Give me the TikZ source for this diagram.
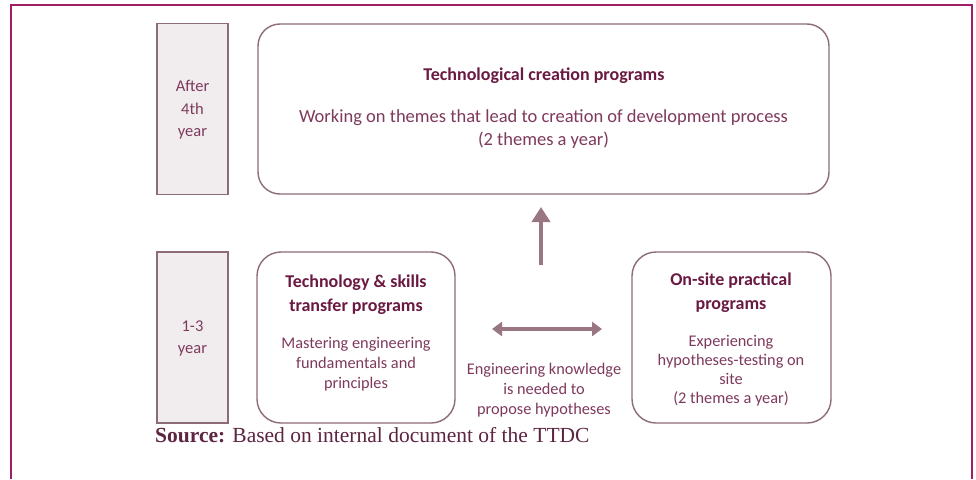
\documentclass[tikz,border=0pt]{standalone}
\usepackage{fontspec}
\setmainfont{Carlito}
\newfontfamily\srcfont{Liberation Serif}
\usetikzlibrary{arrows.meta}
\definecolor{frame}{HTML}{9E1F68}
\definecolor{edge}{HTML}{8C6C77}
\definecolor{grayfill}{HTML}{F1EDEF}
\definecolor{titlec}{HTML}{6A1A42}
\definecolor{bodyc}{HTML}{7E3A5C}
\definecolor{arrowc}{HTML}{9A7582}
\definecolor{srcc}{HTML}{5C2541}
\tikzset{
  yearbox/.style={draw=edge, line width=1.4pt, fill=grayfill, minimum width=71pt, minimum height=171pt, inner sep=0pt},
  progbox/.style={draw=edge, line width=1.4pt, inner sep=0pt},
  txt/.style={text=bodyc, font=\fontsize{16.3}{20}\selectfont, align=center, inner sep=0pt},
  bigtxt/.style={text=bodyc, font=\fontsize{18.5}{23}\selectfont, align=center, inner sep=0pt},
  yeartxt/.style={text=bodyc, font=\fontsize{16.5}{22.5}\selectfont, align=center, inner sep=0pt},
  ttl/.style={text=titlec, font=\fontsize{18}{24}\selectfont\bfseries, align=center, inner sep=0pt},
  thickarrow/.style={draw=arrowc, line width=4.5pt},
}
\begin{document}
\begin{tikzpicture}[x=1pt,y=-1pt]
\useasboundingbox (0,0) rectangle (976,479);
\fill[white] (0,0) rectangle (976,479);
% outer frame
\draw[frame, line width=2.2pt] (11,479) -- (11,5) -- (972,5) -- (972,479);
% year boxes
\node[yearbox] (y1) at (192.5,109) {};
\node[yeartxt] (y1t) at (192.5,110) {After\\4th\\year};
\node[yearbox] (y2) at (192.5,337.5) {};
\node[yeartxt] (y2t) at (192.5,338.5) {1-3\\year};
% top program box
\draw[progbox, rounded corners=22pt] (258,24) rectangle (829,194);
\node[ttl] (t1) at (544,76) {Technological creation programs};
\node[bigtxt] (t2) at (543.5,129.5) {Working on themes that lead to creation of development process\\(2 themes a year)};
% lower left box
\draw[progbox, rounded corners=24pt] (257,252) rectangle (455,423);
\node[ttl] (l1) at (356,295) {Technology \& skills\\transfer programs};
\node[txt] (l2) at (356,364) {Mastering engineering\\fundamentals and\\principles};
% lower right box
\draw[progbox, rounded corners=24pt] (632,252) rectangle (831,423);
\node[ttl] (r1) at (731,293) {On-site practical\\programs};
\node[txt, font=\fontsize{16.3}{19}\selectfont] (r2) at (731,371) {Experiencing\\hypotheses-testing on\\site\\(2 themes a year)};
% middle text
\node[txt] (m) at (544,390) {Engineering knowledge\\is needed to\\propose hypotheses};
% arrows
\coordinate (ua) at (541,265);
\coordinate (ub) at (541,207);
\draw[thickarrow, -{Triangle[length=15pt,width=18pt]}] (ua) -- (ub);
\coordinate (da) at (492,329);
\coordinate (db) at (602,329);
\draw[thickarrow, {Triangle[length=10pt,width=14pt]}-{Triangle[length=10pt,width=14pt]}] (da) -- (db);
% source
\node[anchor=west, inner sep=0pt, text=srcc, font=\srcfont\fontsize{21.5}{24}\selectfont] (src) at (155,435) {\textbf{Source:} Based on internal document of the TTDC};
\end{tikzpicture}
\end{document}
